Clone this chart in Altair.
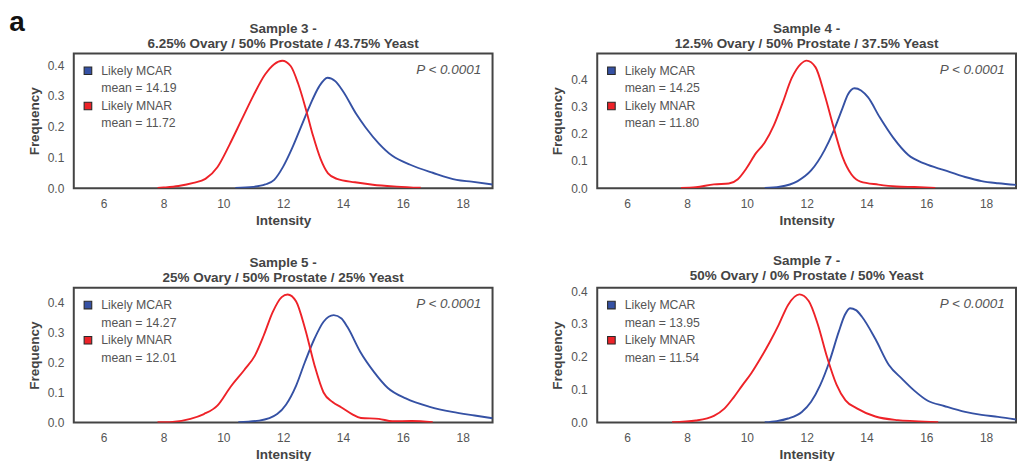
import altair as alt
import pandas as pd

FONT = "Liberation Sans"
BLUE = "#3551a4"
RED = "#ee2228"

# ---- density curves: (intensity, frequency) ----
# Sample 3
S3_MCAR_X = [10.4, 11.0, 11.4, 11.7, 12.0, 12.3, 12.6, 12.9, 13.2, 13.48, 13.75, 14.0,
             14.45, 14.75, 15.2, 15.65, 16.25, 17.0, 17.8, 18.3, 19.0]
S3_MCAR_Y = [0.0005, 0.004, 0.012, 0.027, 0.07, 0.13, 0.2, 0.27, 0.33, 0.359, 0.347, 0.315,
             0.24, 0.198, 0.145, 0.105, 0.076, 0.05, 0.027, 0.021, 0.012]
S3_MNAR_X = [7.8, 8.0, 8.5, 9.0, 9.4, 9.8, 10.2, 10.6, 11.0, 11.4, 11.7, 11.97, 12.25, 12.5,
             12.75, 13.0, 13.25, 13.5, 13.8, 14.4, 15.0, 15.8, 16.6]
S3_MNAR_Y = [0.0005, 0.002, 0.007, 0.017, 0.03, 0.068, 0.14, 0.22, 0.30, 0.37, 0.403, 0.414,
             0.397, 0.34, 0.26, 0.17, 0.095, 0.048, 0.03, 0.019, 0.011, 0.005, 0.001]
# Sample 4
S4_MCAR_X = [10.6, 11.1, 11.7, 12.15, 12.6, 12.9, 13.2, 13.38, 13.6, 13.82, 14.05, 14.45, 14.9,
             15.4, 15.95, 16.6, 17.3, 17.85, 18.4, 19.0]
S4_MCAR_Y = [0.0005, 0.005, 0.026, 0.065, 0.14, 0.21, 0.295, 0.345, 0.368, 0.36, 0.335, 0.26,
             0.185, 0.122, 0.09, 0.066, 0.041, 0.026, 0.018, 0.012]
S4_MNAR_X = [7.8, 8.3, 8.9, 9.4, 9.7, 10.0, 10.3, 10.6, 10.9, 11.2, 11.5, 11.8, 12.0, 12.3,
             12.6, 12.9, 13.2, 13.5, 13.8, 14.4, 15.0, 15.6, 16.3]
S4_MNAR_Y = [0.0005, 0.003, 0.014, 0.017, 0.033, 0.075, 0.128, 0.168, 0.23, 0.315, 0.405, 0.457,
             0.47, 0.445, 0.345, 0.225, 0.115, 0.05, 0.024, 0.013, 0.006, 0.004, 0.001]
# Sample 5
S5_MCAR_X = [10.5, 11.2, 11.8, 12.1, 12.43, 12.74, 13.05, 13.35, 13.69, 13.95, 14.15, 14.58,
             15.04, 15.5, 16.1, 16.9, 17.65, 18.4, 19.0]
S5_MCAR_Y = [0.0005, 0.006, 0.028, 0.06, 0.122, 0.205, 0.28, 0.336, 0.358, 0.347, 0.318, 0.235,
             0.168, 0.115, 0.08, 0.052, 0.035, 0.023, 0.014]
S5_MNAR_X = [7.8, 8.3, 8.9, 9.35, 9.8, 10.25, 10.7, 11.05, 11.35, 11.65, 11.95, 12.15, 12.43,
             12.74, 13.05, 13.35, 13.65, 13.95, 14.3, 14.6, 15.2, 15.65, 16.3, 17.0]
S5_MNAR_Y = [0.0005, 0.002, 0.012, 0.028, 0.056, 0.12, 0.175, 0.222, 0.29, 0.368, 0.418, 0.427,
             0.404, 0.31, 0.19, 0.1, 0.068, 0.05, 0.028, 0.015, 0.012, 0.004, 0.005, 0.001]
# Sample 7
S7_MCAR_X = [10.6, 11.0, 11.38, 11.84, 12.15, 12.45, 12.76, 13.07, 13.28, 13.45, 13.65, 13.85,
             14.3, 14.75, 15.2, 15.6, 16.05, 16.6, 17.3, 17.85, 18.4, 19.0]
S7_MCAR_Y = [0.0005, 0.004, 0.012, 0.032, 0.063, 0.113, 0.185, 0.275, 0.328, 0.348, 0.342,
             0.322, 0.254, 0.175, 0.132, 0.097, 0.066, 0.05, 0.032, 0.023, 0.017, 0.009]
S7_MNAR_X = [7.5, 8.3, 8.9, 9.25, 9.55, 9.85, 10.15, 10.45, 10.77, 11.07, 11.38, 11.76, 12.07,
             12.37, 12.68, 13.0, 13.3, 13.68, 14.3, 15.05, 15.6, 16.4]
S7_MNAR_Y = [0.0005, 0.006, 0.02, 0.042, 0.075, 0.113, 0.15, 0.194, 0.245, 0.298, 0.358, 0.39,
             0.37, 0.3, 0.2, 0.115, 0.067, 0.043, 0.018, 0.007, 0.004, 0.001]

MCAR = [(S3_MCAR_X, S3_MCAR_Y), (S4_MCAR_X, S4_MCAR_Y), (S5_MCAR_X, S5_MCAR_Y), (S7_MCAR_X, S7_MCAR_Y)]
MNAR = [(S3_MNAR_X, S3_MNAR_Y), (S4_MNAR_X, S4_MNAR_Y), (S5_MNAR_X, S5_MNAR_Y), (S7_MNAR_X, S7_MNAR_Y)]

TITLES = [
    ["Sample 3 -", "6.25% Ovary / 50% Prostate / 43.75% Yeast"],
    ["Sample 4 -", "12.5% Ovary / 50% Prostate / 37.5% Yeast"],
    ["Sample 5 -", "25% Ovary / 50% Prostate / 25% Yeast"],
    ["Sample 7 -", "50% Ovary / 0% Prostate / 50% Yeast"],
]
MEAN_MCAR = ["14.19", "14.25", "14.27", "13.95"]
MEAN_MNAR = ["11.72", "11.80", "12.01", "11.54"]
YMAX = [0.4376, 0.496, 0.449, 0.41]
X_TICKS = [6, 8, 10, 12, 14, 16, 18]
Y_TICKS = [0.0, 0.1, 0.2, 0.3, 0.4]
SERIES = ["Likely MCAR", "Likely MNAR"]
P_TEXT = "P < 0.0001"

ONE = pd.DataFrame({"k": [0]})


def panel(i):
    rows = []
    for name, (xs, ys_) in zip(SERIES, [MCAR[i], MNAR[i]]):
        for xv, yv in zip(xs, ys_):
            rows.append({"x": xv, "y": yv, "series": name})
    df = pd.DataFrame(rows)
    lines = alt.Chart(df).mark_line(strokeWidth=1.9, interpolate="monotone", clip=True).encode(
        x=alt.X("x:Q", scale=alt.Scale(domain=[5, 19], nice=False, zero=False),
                axis=alt.Axis(values=X_TICKS, title="Intensity", format="d")),
        y=alt.Y("y:Q", scale=alt.Scale(domain=[0, YMAX[i]], nice=False),
                axis=alt.Axis(values=Y_TICKS, title="Frequency", format=".1f")),
        color=alt.Color("series:N", scale=alt.Scale(domain=SERIES, range=[BLUE, RED]), legend=None),
    )
    layers = [lines]
    texts = [SERIES[0], "mean = " + MEAN_MCAR[i], SERIES[1], "mean = " + MEAN_MNAR[i]]
    ys = [17.3, 35.0, 52.6, 70.0]
    for t, yy in zip(texts, ys):
        layers.append(alt.Chart(ONE).mark_text(align="left", baseline="middle", fontSize=12.3,
                                               font=FONT, color="#555555").encode(
            x=alt.value(27.5), y=alt.value(yy), text=alt.value(t)))
    for col, yy in zip([BLUE, RED], [ys[0], ys[2]]):
        layers.append(alt.Chart(ONE).mark_square(size=58, fill=col, stroke="#2a2a2a",
                                                 strokeWidth=1.1, opacity=1).encode(
            x=alt.value(14.2), y=alt.value(yy)))
    layers.append(alt.Chart(ONE).mark_text(align="right", baseline="middle", fontSize=13.5,
                                           font=FONT, fontStyle="italic", color="#555555").encode(
        x=alt.value(408.7), y=alt.value(16.5), text=alt.value(P_TEXT)))
    return alt.layer(*layers).properties(
        width=420, height=135,
        title=alt.TitleParams(TITLES[i], fontSize=13.5, fontWeight="bold", color="#444444",
                              font=FONT, lineHeight=15, offset=3, anchor="middle"),
    )


top = alt.hconcat(panel(0), panel(1), spacing=56)
bottom = alt.hconcat(panel(2), panel(3), spacing=56)
chart = alt.vconcat(top, bottom, spacing=24).properties(
    padding={"left": 9, "top": 8, "right": 0, "bottom": 0},
    title=alt.TitleParams("a", anchor="start", fontSize=28, fontWeight="bold", color="#111111",
                          font=FONT, offset=-16, dx=-17),
).configure_view(stroke="#444444", strokeWidth=2).configure_axis(
    grid=False, domain=False, ticks=False, labelFont=FONT, labelFontSize=12,
    labelColor="#555555", labelPadding=10, titleFont=FONT, titleFontSize=13.5,
    titleFontWeight="bold", titleColor="#444444", titlePadding=4,
).configure_axisY(labelPadding=10, titlePadding=6)

chart.save("out.html", embed_options={"renderer": "svg", "actions": False})
